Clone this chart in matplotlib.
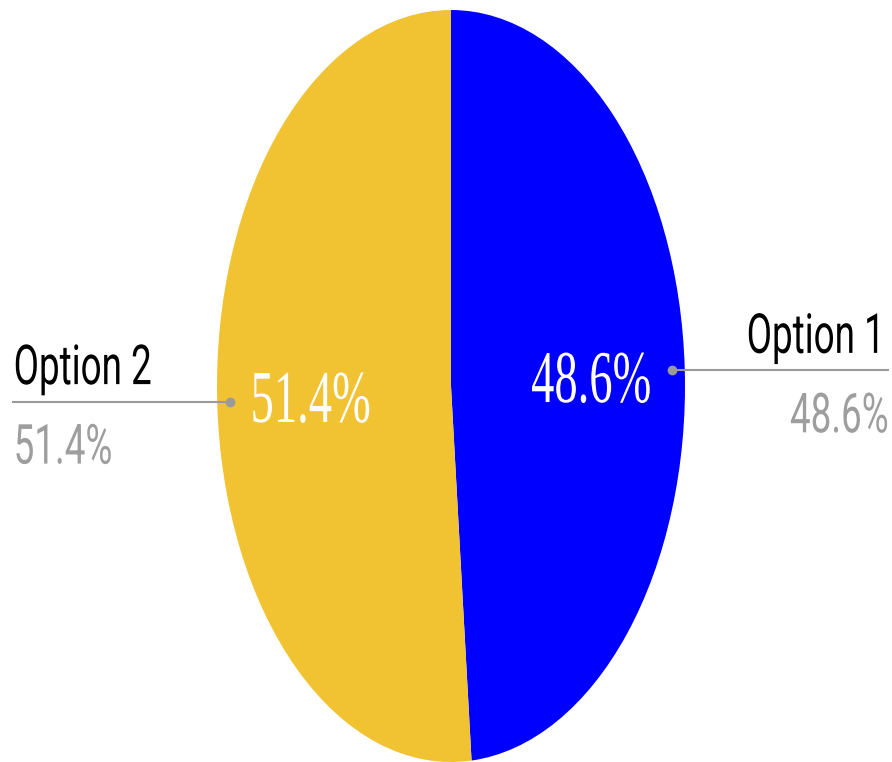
import numpy as np
import matplotlib
matplotlib.use("Agg")
import matplotlib.pyplot as plt
from matplotlib.patheffects import AbstractPathEffect
from matplotlib.transforms import Affine2D

# Data
labels = ["Option 1", "Option 2"]
values = [48.6, 51.4]
colors = ["#0000ff", "#f1c232"]

line_gray = "#9a9a9a"
pct_gray = "#9e9e9e"


class VStretch(AbstractPathEffect):
    """Stretch glyphs vertically about the baseline (chart is stretched)."""
    def __init__(self, sy):
        super().__init__()
        self.sy = sy

    def draw_path(self, renderer, gc, tpath, affine, rgbFace=None):
        renderer.draw_path(gc, tpath, Affine2D().scale(1, self.sy) + affine, rgbFace)


fig = plt.figure(figsize=(8.92, 7.62), dpi=100)
ax = fig.add_axes([217 / 892, 0, 468 / 892, 752 / 762])

wedges, _ = ax.pie(values, colors=colors, startangle=90, counterclock=False,
                   radius=1, wedgeprops=dict(linewidth=0))
ax.set_aspect("auto")
ax.set_xlim(-1, 1)
ax.set_ylim(-1, 1)
ax.axis("off")

serif_fx = dict(path_effects=[VStretch(1.6)], annotation_clip=False)
sans_fx = dict(path_effects=[VStretch(1.5)], annotation_clip=False)
for w, lab, v in zip(wedges, labels, values):
    mid = np.radians((w.theta1 + w.theta2) / 2)
    cx, cy = np.cos(mid), np.sin(mid)
    right = cx > 0

    # percentage inside the slice
    ax.annotate(f"{v}%", xy=(0.6 * cx, 0.6 * cy), xytext=(0, -18.7),
                textcoords="offset points", ha="center", va="baseline",
                color="white", fontsize=33.5, family="Liberation Serif", **serif_fx)

    # leader line with dot
    dx, dy = 0.945 * cx, 0.945 * cy
    x_end = 1.87 if right else -1.875
    ax.plot([dx, x_end], [dy, dy], color=line_gray, lw=1.5,
            solid_capstyle="butt", clip_on=False)
    ax.plot([dx], [dy], "o", color=line_gray, markersize=6, clip_on=False)

    ha = "right" if right else "left"
    off_x = -3 if right else 1
    ax.annotate(lab, xy=(x_end, dy), xytext=(off_x, 12.6),
                textcoords="offset points", ha=ha, va="baseline",
                color="black", fontsize=26.5, family="Roboto", **sans_fx)
    ax.annotate(f"{v}%", xy=(x_end, dy), xytext=(0 if right else 1, -44.6),
                textcoords="offset points", ha=ha, va="baseline",
                color=pct_gray, fontsize=26.5, family="Roboto", **sans_fx)

fig.savefig("out.png", dpi=100)
